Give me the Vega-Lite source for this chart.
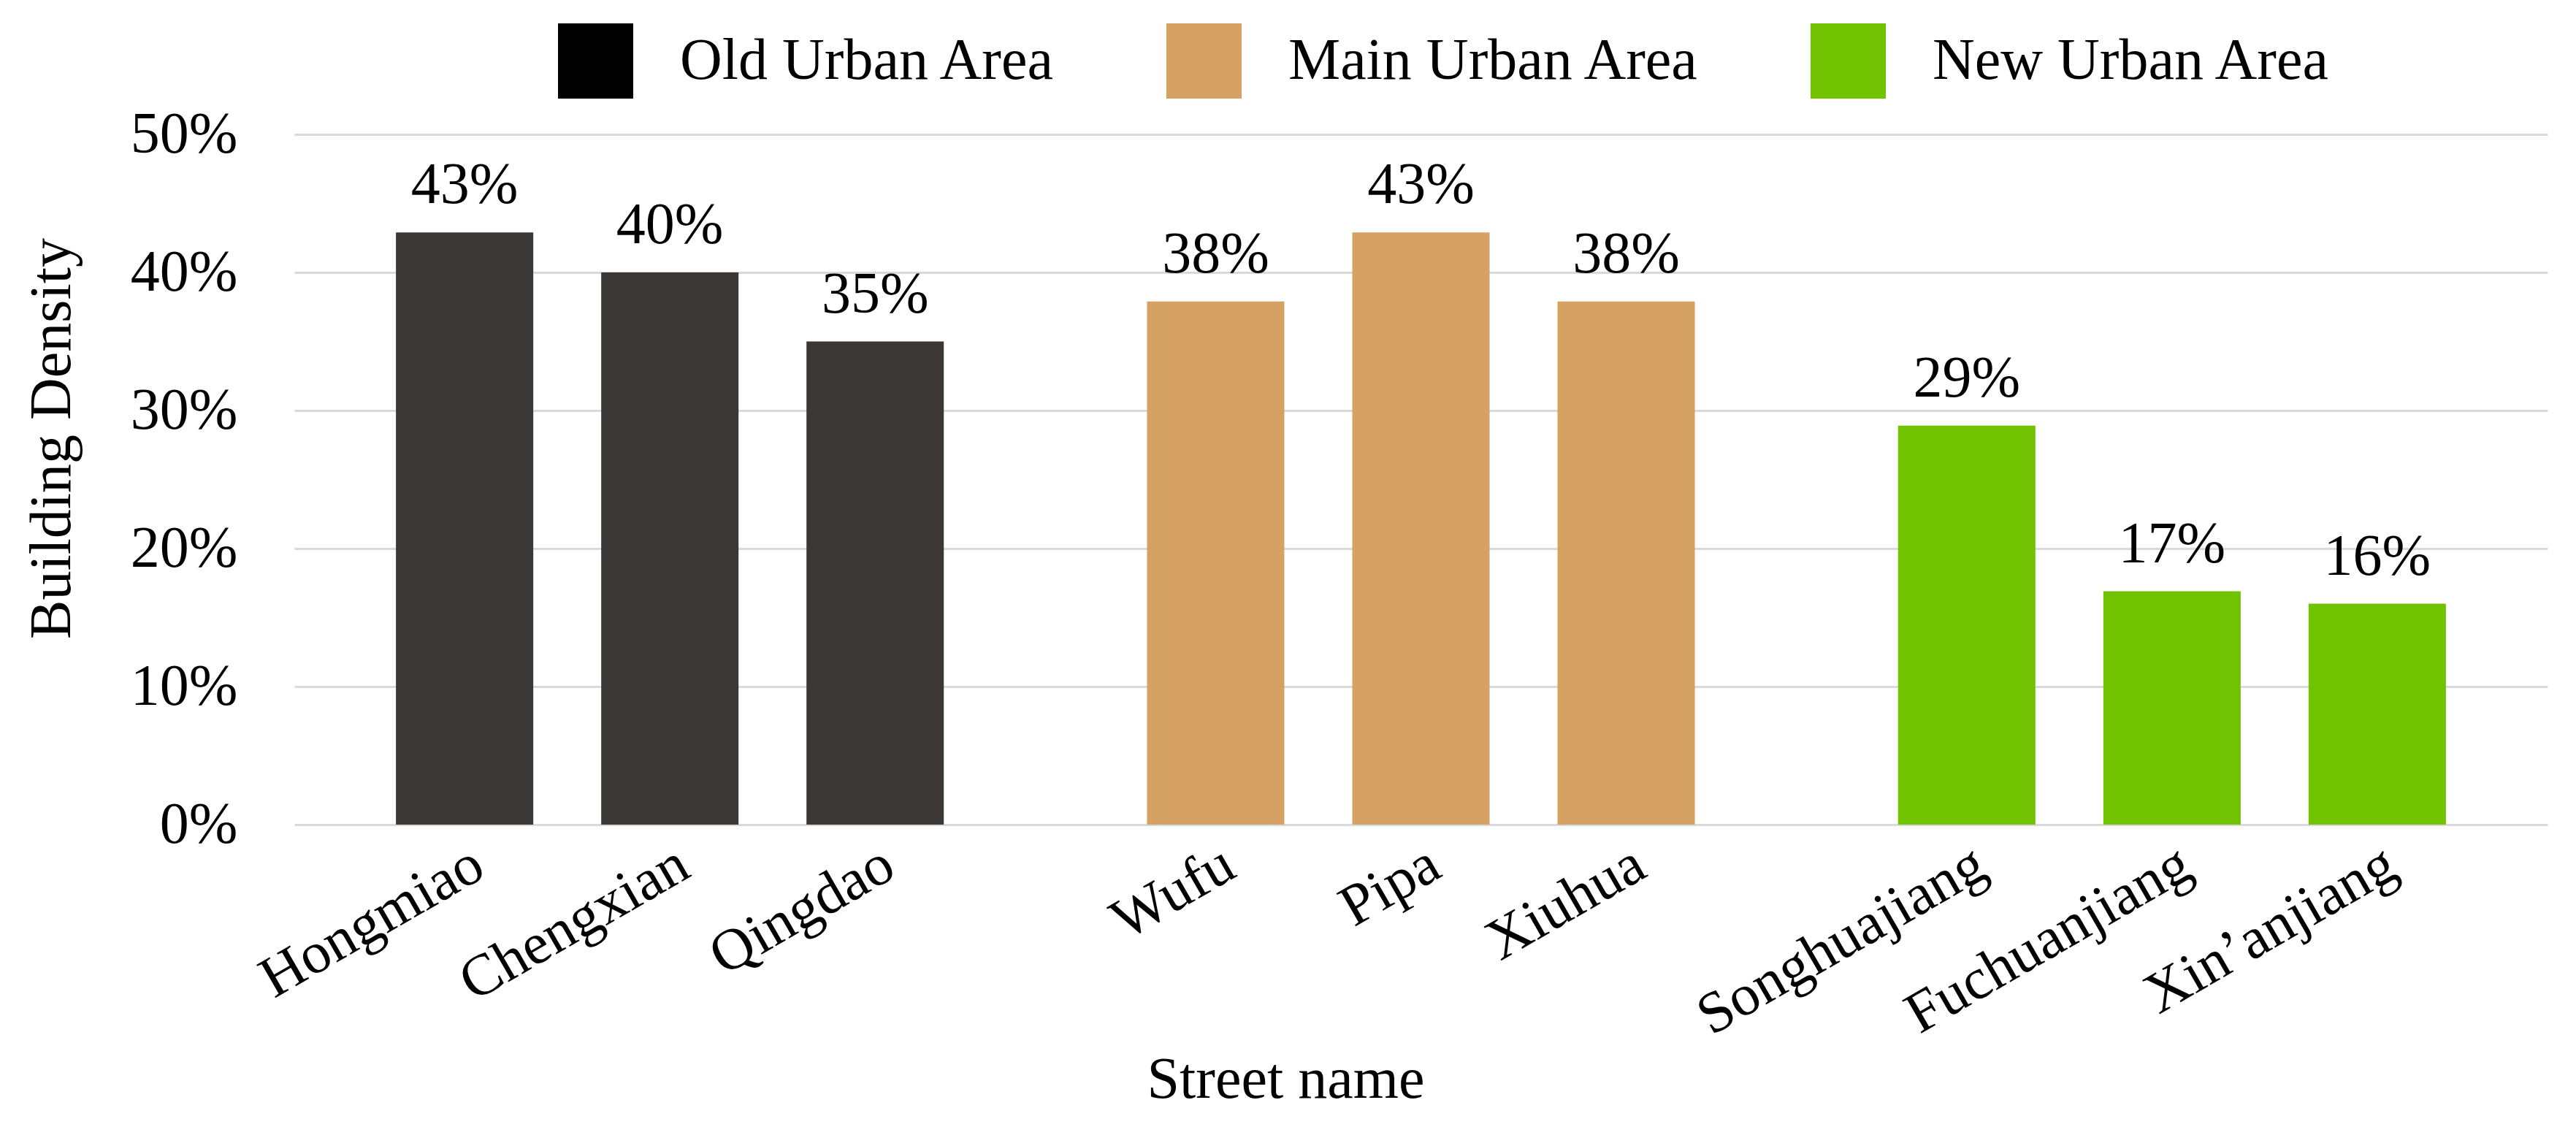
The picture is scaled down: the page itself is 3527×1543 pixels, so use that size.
{
  "$schema": "https://vega.github.io/schema/vega-lite/v6.json",
  "width": 3085,
  "height": 945,
  "autosize": {"type": "none"},
  "padding": {"left": 403, "top": 184, "right": 39, "bottom": 414},
  "background": "white",
  "config": {"font": "Liberation Serif", "view": {"stroke": null}},
  "data": {
    "values": [
      {"area": "Old Urban Area", "street": "Hongmiao", "density": 0.429},
      {"area": "Old Urban Area", "street": "Chengxian", "density": 0.40},
      {"area": "Old Urban Area", "street": "Qingdao", "density": 0.35},
      {"area": "Main Urban Area", "street": "Wufu", "density": 0.379},
      {"area": "Main Urban Area", "street": "Pipa", "density": 0.429},
      {"area": "Main Urban Area", "street": "Xiuhua", "density": 0.379},
      {"area": "New Urban Area", "street": "Songhuajiang", "density": 0.289},
      {"area": "New Urban Area", "street": "Fuchuanjiang", "density": 0.169},
      {"area": "New Urban Area", "street": "Xin’anjiang", "density": 0.16}
    ]
  },
  "transform": [
    {"window": [{"op": "row_number", "as": "idx"}], "groupby": ["area"]}
  ],
  "encoding": {
    "x": {
      "field": "area",
      "type": "nominal",
      "sort": ["Old Urban Area", "Main Urban Area", "New Urban Area"],
      "scale": {"paddingInner": 0, "paddingOuter": 0},
      "axis": {
        "title": "Street name",
        "labels": false,
        "ticks": false,
        "domain": false,
        "grid": false,
        "titleX": 1357,
        "titleY": 373,
        "titleAlign": "center",
        "titleBaseline": "alphabetic",
        "titleFontSize": 80,
        "titleFontWeight": "normal",
        "titleColor": "#000000",
        "titleFont": "Liberation Serif"
      }
    },
    "xOffset": {
      "field": "idx",
      "type": "ordinal",
      "scale": {"paddingInner": 0.331, "paddingOuter": 0.495}
    }
  },
  "layer": [
    {
      "mark": {"type": "bar", "fillOpacity": 0},
      "encoding": {
        "y": {
          "field": "density",
          "type": "quantitative",
          "scale": {"domain": [0, 0.5], "nice": false},
          "axis": {
            "title": "Building Density",
            "values": [0, 0.1, 0.2, 0.3, 0.4, 0.5],
            "format": ".0%",
            "domain": false,
            "ticks": false,
            "tickSize": 0,
            "labelPadding": 78,
            "labelFontSize": 80,
            "labelColor": "#000000",
            "labelFont": "Liberation Serif",
            "gridColor": "#d9d9d9",
            "gridWidth": 3,
            "titleFontSize": 80,
            "titleFontWeight": "normal",
            "titleColor": "#000000",
            "titleFont": "Liberation Serif",
            "titleX": -308,
            "titleY": 416,
            "titleAlign": "center",
            "titleBaseline": "alphabetic",
            "titleAngle": 270
          }
        },
        "fill": {
          "field": "area",
          "type": "nominal",
          "scale": {
            "domain": ["Old Urban Area", "Main Urban Area", "New Urban Area"],
            "range": ["#000000", "#d6a263", "#71c301"]
          },
          "legend": {
            "title": null,
            "orient": "none",
            "legendX": 361,
            "legendY": -152,
            "direction": "horizontal",
            "symbolType": "square",
            "symbolSize": 10609,
            "symbolStrokeWidth": 0,
            "symbolOpacity": 1,
            "symbolFillOpacity": 1,
            "labelFontSize": 80,
            "labelFont": "Liberation Serif",
            "labelColor": "#000000",
            "labelOffset": 64,
            "labelLimit": 0,
            "columnPadding": 150,
            "padding": 0
          }
        }
      }
    },
    {
      "mark": {"type": "bar"},
      "encoding": {
        "y": {"field": "density", "type": "quantitative"},
        "color": {
          "field": "area",
          "type": "nominal",
          "scale": {
            "domain": ["Old Urban Area", "Main Urban Area", "New Urban Area"],
            "range": ["#3b3735", "#d6a263", "#71c301"]
          },
          "legend": null
        }
      }
    },
    {
      "mark": {"type": "text", "baseline": "alphabetic", "dy": -40, "fontSize": 80, "color": "#000000"},
      "encoding": {
        "y": {"field": "density", "type": "quantitative"},
        "text": {"field": "density", "type": "quantitative", "format": ".0%"}
      }
    },
    {
      "mark": {"type": "text", "angle": 330, "align": "right", "baseline": "top", "fontSize": 80, "color": "#000000", "yOffset": 15},
      "encoding": {
        "y": {"datum": 0},
        "text": {"field": "street", "type": "nominal"}
      }
    }
  ]
}
